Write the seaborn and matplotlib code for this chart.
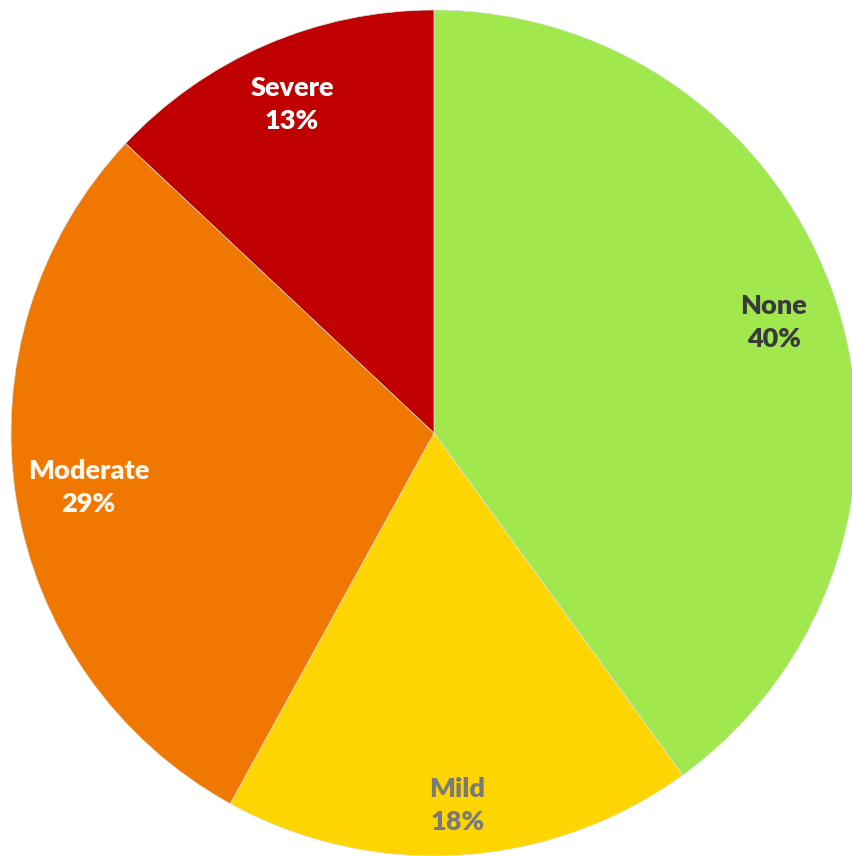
import numpy as np
import matplotlib
matplotlib.use("Agg")
import matplotlib.pyplot as plt
import seaborn as sns

categories = ["None", "Mild", "Moderate", "Severe"]
values = [40, 18, 29, 13]
colors = ["#A0E84E", "#FFD500", "#F07800", "#C00000"]
label_colors = ["#3A3A3A", "#7A7A7A", "#FFF6EC", "#FFFFFF"]
label_dist = [0.845, 0.883, 0.827, 0.845]

sns.set_theme(style="white")
plt.rcParams["font.family"] = ["Lato", "DejaVu Sans"]

fig = plt.figure(figsize=(8.52, 8.56), dpi=100)
ax = fig.add_axes([0, 0, 1, 1])
wedges, _ = ax.pie(values, colors=colors, startangle=90, counterclock=False,
                   radius=1.0, center=(0, 0),
                   wedgeprops=dict(edgecolor="#E0E0E0", linewidth=0.5))
for w, cat, v, tc, d in zip(wedges, categories, values, label_colors, label_dist):
    ang = np.deg2rad((w.theta1 + w.theta2) / 2)
    x, y = d * np.cos(ang), d * np.sin(ang)
    ax.text(x, y, f"{cat}\n{v}%", ha="center", va="center", color=tc,
            fontsize=19.5, fontweight="heavy", linespacing=1.45)

cx, cy, r = 434, 433, 423
ax.set_xlim((0 - cx) / r, (852 - cx) / r)
ax.set_ylim((cy - 856) / r, (cy - 0) / r)
ax.set_aspect("auto")
ax.axis("off")
fig.savefig("out.png", dpi=100)
